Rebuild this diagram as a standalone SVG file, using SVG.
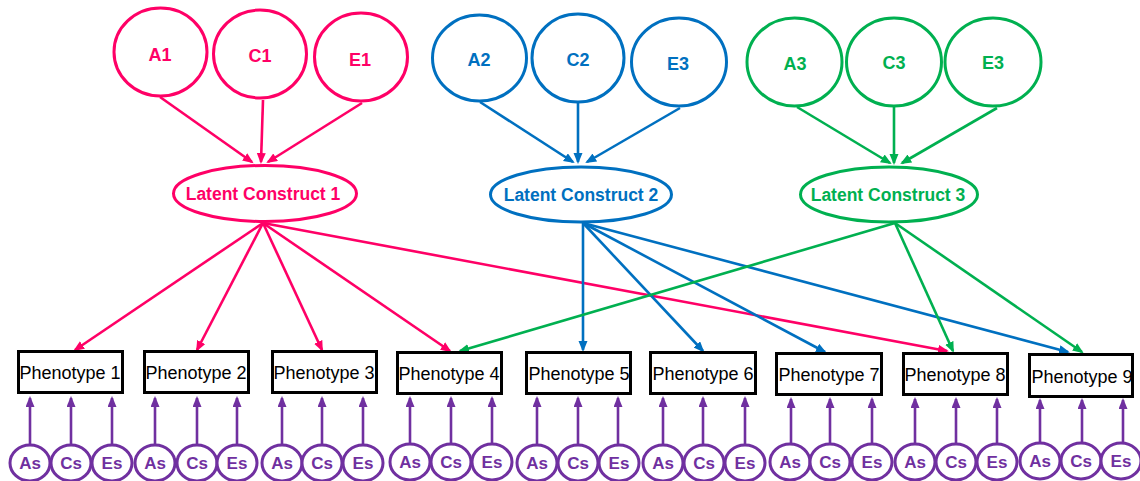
<svg xmlns="http://www.w3.org/2000/svg" width="1140" height="481" viewBox="0 0 1140 481">
<style>
.bg{fill:#ffffff}
.pk{stroke:#FF0066}
.bl{stroke:#0070C0}
.gr{stroke:#00B050}
.pu{stroke:#7030A0}
ellipse{fill:#ffffff;stroke-width:3}
.conn line{stroke-width:2.6;fill:none}
.lbl{font-family:"Liberation Sans",Arial,sans-serif;font-weight:bold;text-anchor:middle}
.tpk{fill:#FF0066}.tbl{fill:#0070C0}.tgr{fill:#00B050}.tpu{fill:#7030A0}
.box{fill:#ffffff;stroke:#000000;stroke-width:3}
.ptx{font-family:"Liberation Sans",Arial,sans-serif;font-size:18px;fill:#000000;text-anchor:middle}
</style>
<defs>
<marker id="mpk" markerUnits="userSpaceOnUse" markerWidth="12" markerHeight="10" refX="9" refY="4.5" orient="auto"><path d="M0,0 L11,4.5 L0,9 z" fill="#FF0066"/></marker>
<marker id="mbl" markerUnits="userSpaceOnUse" markerWidth="12" markerHeight="10" refX="9" refY="4.5" orient="auto"><path d="M0,0 L11,4.5 L0,9 z" fill="#0070C0"/></marker>
<marker id="mgr" markerUnits="userSpaceOnUse" markerWidth="12" markerHeight="10" refX="9" refY="4.5" orient="auto"><path d="M0,0 L11,4.5 L0,9 z" fill="#00B050"/></marker>
<marker id="mpu" markerUnits="userSpaceOnUse" markerWidth="12" markerHeight="10" refX="9" refY="4.5" orient="auto"><path d="M0,0 L11,4.5 L0,9 z" fill="#7030A0"/></marker>
</defs>
<rect class="bg" x="0" y="0" width="1140" height="481"/>

<g id="connectors" class="conn">
<g class="pk" marker-end="url(#mpk)">
<line x1="160" y1="97" x2="252" y2="162"/>
<line x1="263" y1="100" x2="261" y2="162"/>
<line x1="362" y1="103" x2="268" y2="162"/>
<line x1="263" y1="223" x2="75" y2="350"/>
<line x1="263" y1="223" x2="197" y2="350"/>
<line x1="263" y1="223" x2="322" y2="350"/>
<line x1="263" y1="223" x2="450" y2="351"/>
<line x1="263" y1="223" x2="947" y2="351"/>
</g>
<g class="bl" marker-end="url(#mbl)">
<line x1="480" y1="102" x2="573" y2="162"/>
<line x1="578" y1="103" x2="578" y2="162"/>
<line x1="680" y1="108" x2="587" y2="162"/>
<line x1="583" y1="223" x2="583" y2="350"/>
<line x1="583" y1="223" x2="703" y2="351"/>
<line x1="583" y1="223" x2="825" y2="352"/>
<line x1="583" y1="223" x2="1068" y2="352"/>
</g>
<g class="gr" marker-end="url(#mgr)">
<line x1="797" y1="107" x2="890" y2="163"/>
<line x1="894" y1="107" x2="894" y2="163"/>
<line x1="997" y1="108" x2="902" y2="163"/>
<line x1="895" y1="223" x2="460" y2="351"/>
<line x1="895" y1="223" x2="953" y2="351"/>
<line x1="895" y1="223" x2="1082" y2="352"/>
</g>
<g class="pu" marker-end="url(#mpu)">
<line x1="30" y1="444" x2="30" y2="398"/><line x1="71" y1="444" x2="71" y2="398"/><line x1="112" y1="444" x2="112" y2="398"/>
<line x1="155" y1="444" x2="155" y2="398"/><line x1="197" y1="444" x2="197" y2="398"/><line x1="237" y1="444" x2="237" y2="398"/>
<line x1="282" y1="444" x2="282" y2="398"/><line x1="322" y1="444" x2="322" y2="398"/><line x1="363" y1="444" x2="363" y2="398"/>
<line x1="410" y1="444" x2="410" y2="398"/><line x1="451" y1="444" x2="451" y2="398"/><line x1="492" y1="444" x2="492" y2="398"/>
<line x1="537" y1="444" x2="537" y2="398"/><line x1="578" y1="444" x2="578" y2="398"/><line x1="618" y1="444" x2="618" y2="398"/>
<line x1="663" y1="444" x2="663" y2="398"/><line x1="703" y1="444" x2="703" y2="398"/><line x1="745" y1="444" x2="745" y2="398"/>
<line x1="791" y1="444" x2="791" y2="399"/><line x1="830" y1="444" x2="830" y2="399"/><line x1="872" y1="444" x2="872" y2="399"/>
<line x1="915" y1="444" x2="915" y2="399"/><line x1="956" y1="444" x2="956" y2="399"/><line x1="997" y1="444" x2="997" y2="399"/>
<line x1="1040" y1="444" x2="1040" y2="400"/><line x1="1082" y1="444" x2="1082" y2="400"/><line x1="1123" y1="444" x2="1123" y2="400"/>
</g>
</g>

<g id="A1"><ellipse class="pk" cx="160.5" cy="52" rx="46.5" ry="44"/><text class="lbl tpk" x="160" y="61" font-size="18">A1</text></g>
<g id="C1"><ellipse class="pk" cx="260" cy="54" rx="46.5" ry="44"/><text class="lbl tpk" x="260" y="62" font-size="18">C1</text></g>
<g id="E1"><ellipse class="pk" cx="361" cy="57" rx="46.5" ry="44"/><text class="lbl tpk" x="360" y="66" font-size="18">E1</text></g>
<g id="A2"><ellipse class="bl" cx="479.5" cy="58" rx="47" ry="43"/><text class="lbl tbl" x="479" y="66" font-size="18">A2</text></g>
<g id="C2"><ellipse class="bl" cx="578" cy="58" rx="46" ry="44"/><text class="lbl tbl" x="578" y="66" font-size="18">C2</text></g>
<g id="E3b"><ellipse class="bl" cx="679" cy="62" rx="47.5" ry="44"/><text class="lbl tbl" x="678" y="70" font-size="18">E3</text></g>
<g id="A3"><ellipse class="gr" cx="794.5" cy="62" rx="47.5" ry="44"/><text class="lbl tgr" x="795" y="70" font-size="18">A3</text></g>
<g id="C3"><ellipse class="gr" cx="894" cy="62" rx="47.5" ry="44"/><text class="lbl tgr" x="894" y="69" font-size="18">C3</text></g>
<g id="E3g"><ellipse class="gr" cx="993" cy="62" rx="48" ry="44"/><text class="lbl tgr" x="993" y="69" font-size="18">E3</text></g>

<g id="LC1"><ellipse class="pk" cx="265" cy="193.5" rx="91.5" ry="28"/><text class="lbl tpk" x="263" y="200" font-size="17.5">Latent Construct 1</text></g>
<g id="LC2"><ellipse class="bl" cx="581" cy="194.5" rx="90.5" ry="27.5"/><text class="lbl tbl" x="581" y="201" font-size="17.5">Latent Construct 2</text></g>
<g id="LC3"><ellipse class="gr" cx="889" cy="194.5" rx="88.5" ry="27.5"/><text class="lbl tgr" x="888" y="201" font-size="17.5">Latent Construct 3</text></g>

<g id="P1"><rect class="box" x="18.5" y="351.5" width="104" height="41"/><text class="ptx" x="70" y="379">Phenotype 1</text></g>
<g id="P2"><rect class="box" x="144.5" y="351.5" width="104" height="41"/><text class="ptx" x="196" y="379">Phenotype 2</text></g>
<g id="P3"><rect class="box" x="272.5" y="351.5" width="104" height="41"/><text class="ptx" x="324" y="379">Phenotype 3</text></g>
<g id="P4"><rect class="box" x="397.5" y="352.5" width="104" height="41"/><text class="ptx" x="449" y="380">Phenotype 4</text></g>
<g id="P5"><rect class="box" x="526.5" y="352.5" width="104" height="41"/><text class="ptx" x="579" y="380">Phenotype 5</text></g>
<g id="P6"><rect class="box" x="650.5" y="352.5" width="105" height="41"/><text class="ptx" x="703" y="380">Phenotype 6</text></g>
<g id="P7"><rect class="box" x="776.5" y="353.5" width="105" height="41"/><text class="ptx" x="829" y="381">Phenotype 7</text></g>
<g id="P8"><rect class="box" x="903.5" y="353.5" width="104" height="41"/><text class="ptx" x="955" y="381">Phenotype 8</text></g>
<g id="P9"><rect class="box" x="1029.5" y="354.5" width="103" height="42"/><text class="ptx" x="1082" y="383">Phenotype 9</text></g>

<g id="S1"><ellipse class="pu" cx="30" cy="463" rx="20" ry="18"/><ellipse class="pu" cx="71" cy="463" rx="20" ry="18"/><ellipse class="pu" cx="112" cy="463" rx="20" ry="18"/><text class="lbl tpu" x="30" y="469" font-size="17">As</text><text class="lbl tpu" x="71" y="469" font-size="17">Cs</text><text class="lbl tpu" x="112" y="469" font-size="17">Es</text></g>
<g id="S2"><ellipse class="pu" cx="155" cy="463" rx="20" ry="18"/><ellipse class="pu" cx="197" cy="463" rx="20" ry="18"/><ellipse class="pu" cx="237" cy="463" rx="20" ry="18"/><text class="lbl tpu" x="155" y="469" font-size="17">As</text><text class="lbl tpu" x="197" y="469" font-size="17">Cs</text><text class="lbl tpu" x="237" y="469" font-size="17">Es</text></g>
<g id="S3"><ellipse class="pu" cx="282" cy="463" rx="20" ry="18"/><ellipse class="pu" cx="322" cy="463" rx="20" ry="18"/><ellipse class="pu" cx="363" cy="463" rx="20" ry="18"/><text class="lbl tpu" x="282" y="469" font-size="17">As</text><text class="lbl tpu" x="322" y="469" font-size="17">Cs</text><text class="lbl tpu" x="363" y="469" font-size="17">Es</text></g>
<g id="S4"><ellipse class="pu" cx="410" cy="462" rx="20" ry="18"/><ellipse class="pu" cx="451" cy="462" rx="20" ry="18"/><ellipse class="pu" cx="492" cy="462" rx="20" ry="18"/><text class="lbl tpu" x="410" y="468" font-size="17">As</text><text class="lbl tpu" x="451" y="468" font-size="17">Cs</text><text class="lbl tpu" x="492" y="468" font-size="17">Es</text></g>
<g id="S5"><ellipse class="pu" cx="537" cy="463" rx="20" ry="18"/><ellipse class="pu" cx="578" cy="463" rx="20" ry="18"/><ellipse class="pu" cx="619" cy="463" rx="20" ry="18"/><text class="lbl tpu" x="537" y="469" font-size="17">As</text><text class="lbl tpu" x="578" y="469" font-size="17">Cs</text><text class="lbl tpu" x="619" y="469" font-size="17">Es</text></g>
<g id="S6"><ellipse class="pu" cx="663" cy="463" rx="20" ry="18"/><ellipse class="pu" cx="704" cy="463" rx="20" ry="18"/><ellipse class="pu" cx="745" cy="463" rx="20" ry="18"/><text class="lbl tpu" x="663" y="469" font-size="17">As</text><text class="lbl tpu" x="704" y="469" font-size="17">Cs</text><text class="lbl tpu" x="745" y="469" font-size="17">Es</text></g>
<g id="S7"><ellipse class="pu" cx="790" cy="462" rx="20" ry="18"/><ellipse class="pu" cx="830" cy="462" rx="20" ry="18"/><ellipse class="pu" cx="872" cy="462" rx="20" ry="18"/><text class="lbl tpu" x="790" y="468" font-size="17">As</text><text class="lbl tpu" x="830" y="468" font-size="17">Cs</text><text class="lbl tpu" x="872" y="468" font-size="17">Es</text></g>
<g id="S8"><ellipse class="pu" cx="915" cy="462" rx="20" ry="18"/><ellipse class="pu" cx="956" cy="462" rx="20" ry="18"/><ellipse class="pu" cx="997" cy="462" rx="20" ry="18"/><text class="lbl tpu" x="915" y="468" font-size="17">As</text><text class="lbl tpu" x="956" y="468" font-size="17">Cs</text><text class="lbl tpu" x="997" y="468" font-size="17">Es</text></g>
<g id="S9"><ellipse class="pu" cx="1040" cy="461" rx="20" ry="18"/><ellipse class="pu" cx="1081" cy="461" rx="20" ry="18"/><ellipse class="pu" cx="1121" cy="461" rx="20" ry="18"/><text class="lbl tpu" x="1040" y="467" font-size="17">As</text><text class="lbl tpu" x="1081" y="467" font-size="17">Cs</text><text class="lbl tpu" x="1121" y="467" font-size="17">Es</text></g>
</svg>
